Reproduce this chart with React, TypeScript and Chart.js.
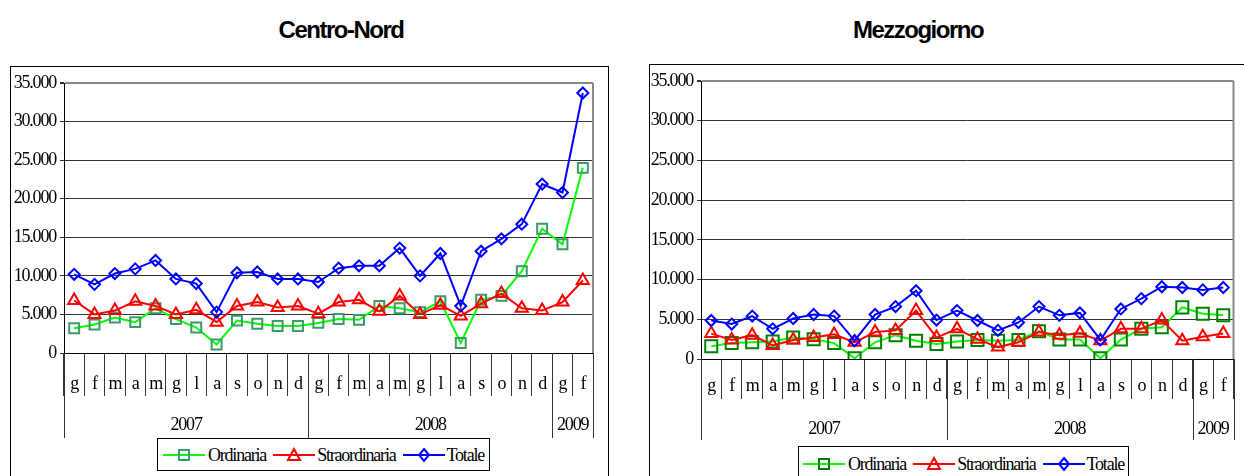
import React, { useEffect, useRef } from "react";
import { Chart, registerables } from "chart.js";
Chart.register(...registerables);

// ---------- DATA ----------
const months = ["g","f","m","a","m","g","l","a","s","o","n","d","g","f","m","a","m","g","l","a","s","o","n","d","g","f"];
const years = ["2007", "2008", "2009"];
const yearSpans = [12, 12, 2];
const seriesNames = ["Ordinaria", "Straordinaria", "Totale"];

const nordOrdinaria = [3200,3700,4600,4000,5800,4400,3300,1100,4200,3800,3500,3500,3900,4400,4300,6100,5800,5300,6700,1300,6900,7400,10600,16100,14100,24000];
const nordStraordinaria = [6800,5000,5500,6700,6100,5000,5600,4000,6100,6600,5900,6100,5100,6600,6900,5400,7400,5000,6200,4800,6400,7700,5800,5500,6600,9400];
const nordTotale = [10200,8900,10300,10900,12000,9600,9000,5300,10400,10500,9600,9600,9200,11000,11300,11300,13600,10000,12900,6100,13200,14800,16700,21900,20800,33700];

const sudOrdinaria = [1600,2000,2100,2200,2700,2500,2000,100,2100,3000,2300,1900,2200,2400,2300,2400,3500,2450,2450,100,2450,3800,4000,6500,5700,5500];
const sudStraordinaria = [3200,2400,3000,1700,2400,2700,3100,2100,3400,3600,6100,2700,3800,2500,1500,2100,3400,3000,3250,2300,3800,3800,4900,2300,2800,3200];
const sudTotale = [4850,4400,5400,3800,5100,5600,5400,2300,5600,6600,8600,4900,6100,4850,3600,4600,6600,5500,5800,2400,6300,7600,9100,9000,8700,9000];

const yMax = 35000;
const yStep = 5000;

// ---------- STYLE ----------
const SERIF = '"Liberation Serif", "Times New Roman", serif';
const SPACING = "-1.2px";

function fmt(v: number): string {
  const s = String(Math.round(v));
  return s.replace(/\B(?=(\d{3})+(?!\d))/g, ".");
}

type PanelCfg = {
  left: number; top: number; width: number; height: number;
  yWidth: number; padTop: number; padRight: number; xHeight: number;
  monthSep: number; monthPad: number; yearSep: number; yearOffset: number;
  squareColor: string; squareRadius: number;
  ord: number[]; str: number[]; tot: number[];
};

function decorPlugin(cfg: PanelCfg) {
  return {
    id: "decor",
    beforeUpdate(chart: any) { chart.ctx.letterSpacing = SPACING; },
    beforeDraw(chart: any) { chart.ctx.letterSpacing = SPACING; },
    afterDraw(chart: any) {
      const { ctx, chartArea } = chart;
      const x = chart.scales.x;
      const n = months.length;
      ctx.save();
      ctx.letterSpacing = SPACING;
      // plot area right border
      ctx.strokeStyle = "#888";
      ctx.lineWidth = 2;
      ctx.beginPath();
      ctx.moveTo(chartArea.right, chartArea.top);
      ctx.lineTo(chartArea.right, chartArea.bottom);
      ctx.stroke();
      // year separators
      const half = (x.getPixelForValue(1) - x.getPixelForValue(0)) / 2;
      const bounds = [0];
      let acc = 0;
      yearSpans.forEach((s) => { acc += s; bounds.push(acc); });
      ctx.strokeStyle = "#333";
      ctx.lineWidth = 1;
      bounds.forEach((b) => {
        const px = b < n ? x.getPixelForValue(b) - half : x.getPixelForValue(n - 1) + half;
        const xx = Math.round(px) + 0.5;
        ctx.beginPath();
        ctx.moveTo(xx, chartArea.bottom);
        ctx.lineTo(xx, chartArea.bottom + cfg.yearSep);
        ctx.stroke();
      });
      // year labels
      ctx.font = `18px ${SERIF}`;
      ctx.fillStyle = "#000";
      ctx.textAlign = "center";
      ctx.textBaseline = "middle";
      years.forEach((yr, i) => {
        const a = bounds[i];
        const b = bounds[i + 1] - 1;
        const cx = (x.getPixelForValue(a) + x.getPixelForValue(b)) / 2;
        ctx.fillText(yr, cx, chartArea.bottom + cfg.yearOffset);
      });
      ctx.restore();
    },
  };
}

function Panel({ cfg }: { cfg: PanelCfg }) {
  const ref = useRef<HTMLCanvasElement | null>(null);
  useEffect(() => {
    if (!ref.current) return;
    const font = { family: SERIF, size: 18 };
    const chart = new Chart(ref.current, {
      type: "line",
      data: {
        labels: months,
        datasets: [
          {
            label: seriesNames[0], data: cfg.ord, order: 3,
            borderColor: "#00ff00", borderWidth: 2, tension: 0,
            pointStyle: "rect", pointRadius: cfg.squareRadius,
            pointBorderColor: cfg.squareColor, pointBorderWidth: 2,
            pointBackgroundColor: "rgba(0,0,0,0)",
          },
          {
            label: seriesNames[1], data: cfg.str, order: 2,
            borderColor: "#ff0000", borderWidth: 2, tension: 0,
            pointStyle: "triangle", pointRadius: 7,
            pointBorderColor: "#ff0000", pointBorderWidth: 2,
            pointBackgroundColor: "rgba(0,0,0,0)",
          },
          {
            label: seriesNames[2], data: cfg.tot, order: 1,
            borderColor: "#0000ff", borderWidth: 2, tension: 0,
            pointStyle: "rectRot", pointRadius: 5.5,
            pointBorderColor: "#0000ff", pointBorderWidth: 2,
            pointBackgroundColor: "rgba(0,0,0,0)",
          },
        ],
      },
      options: {
        responsive: false,
        animation: false,
        devicePixelRatio: 1,
        events: [],
        layout: { padding: { top: cfg.padTop, right: cfg.padRight, left: 0, bottom: 0 } },
        plugins: { legend: { display: false }, tooltip: { enabled: false }, title: { display: false } },
        scales: {
          x: {
            type: "category",
            offset: true,
            grid: {
              offset: true, drawOnChartArea: false, drawTicks: true,
              tickLength: cfg.monthSep, color: "#333", tickColor: "#333", lineWidth: 1,
            },
            border: { color: "#000", width: 1 },
            ticks: { font, color: "#000", padding: cfg.monthPad, maxRotation: 0, minRotation: 0, autoSkip: false },
            afterFit: (s: any) => { s.height = cfg.xHeight; },
          },
          y: {
            min: 0, max: yMax,
            ticks: { stepSize: yStep, font, color: "#000", padding: 4, callback: (v: any) => fmt(Number(v)) },
            grid: {
              color: (c: any) => (c.tick && c.tick.value === yMax ? "#888" : "#333"),
              lineWidth: (c: any) => (c.tick && c.tick.value === yMax ? 2 : 1),
              tickLength: 4,
              tickColor: "#333",
            },
            border: { color: "#000", width: 1 },
            afterFit: (s: any) => { s.width = cfg.yWidth; },
          },
        },
      } as any,
      plugins: [decorPlugin(cfg)],
    });
    return () => chart.destroy();
  }, [cfg]);
  return (
    <canvas
      ref={ref}
      width={cfg.width}
      height={cfg.height}
      style={{ position: "absolute", left: cfg.left, top: cfg.top, width: cfg.width, height: cfg.height }}
    />
  );
}

function Icon({ color, marker, markerColor }: { color: string; marker: string; markerColor: string }) {
  return (
    <svg width={42} height={16} style={{ display: "block", flex: "none" }}>
      <line x1={0} y1={8} x2={42} y2={8} stroke={color} strokeWidth={2} />
      {marker === "rect" && <rect x={16} y={3} width={10} height={10} fill="none" stroke={markerColor} strokeWidth={2} />}
      {marker === "triangle" && <polygon points="21,2 27,13 15,13" fill="none" stroke={markerColor} strokeWidth={2} />}
      {marker === "diamond" && <polygon points="21,2 26,8 21,14 16,8" fill="none" stroke={markerColor} strokeWidth={2} />}
    </svg>
  );
}

function Legend({ left, top, width, height, squareColor }: { left: number; top: number; width: number; height: number; squareColor: string }) {
  const text: React.CSSProperties = { fontFamily: SERIF, fontSize: 18, letterSpacing: SPACING, color: "#000", lineHeight: "18px", whiteSpace: "nowrap" };
  return (
    <div
      style={{
        position: "absolute", left, top, width, height, boxSizing: "border-box",
        border: "1px solid #000", background: "#fff", display: "flex", alignItems: "center",
        justifyContent: "center", gap: 0,
      }}
    >
      <Icon color="#00ff00" marker="rect" markerColor={squareColor} />
      <span style={{ ...text, marginLeft: 3, marginRight: 7 }}>{seriesNames[0]}</span>
      <Icon color="#ff0000" marker="triangle" markerColor="#ff0000" />
      <span style={{ ...text, marginLeft: 2, marginRight: 7 }}>{seriesNames[1]}</span>
      <Icon color="#0000ff" marker="diamond" markerColor="#0000ff" />
      <span style={{ ...text, marginLeft: 2 }}>{seriesNames[2]}</span>
    </div>
  );
}

const leftCfg: PanelCfg = {
  left: 11, top: 67, width: 596, height: 409,
  yWidth: 53, padTop: 16, padRight: 14, xHeight: 123,
  monthSep: 43, monthPad: -23, yearSep: 85, yearOffset: 72,
  squareColor: "#3a9a68", squareRadius: 7,
  ord: nordOrdinaria, str: nordStraordinaria, tot: nordTotale,
};

const rightCfg: PanelCfg = {
  left: 650, top: 65, width: 594, height: 411,
  yWidth: 51, padTop: 16, padRight: 5, xHeight: 117,
  monthSep: 40, monthPad: -24, yearSep: 81, yearOffset: 70,
  squareColor: "#008000", squareRadius: 8.5,
  ord: sudOrdinaria, str: sudStraordinaria, tot: sudTotale,
};

const titleStyle: React.CSSProperties = {
  position: "absolute", top: 15, width: 300, height: 30, lineHeight: "30px", textAlign: "center",
  fontFamily: '"Liberation Sans", Arial, sans-serif', fontWeight: "bold", fontSize: 24, letterSpacing: "-1.5px", color: "#000",
};

export default function App() {
  return (
    <div style={{ position: "absolute", left: 0, top: 0, width: 1244, height: 476, overflow: "hidden", background: "#fff" }}>
      <div style={{ ...titleStyle, left: 341 - 150 }}>Centro-Nord</div>
      <div style={{ ...titleStyle, left: 918 - 150 }}>Mezzogiorno</div>
      <div style={{ position: "absolute", left: 10, top: 66, width: 599, height: 430, boxSizing: "border-box", border: "1px solid #000" }} />
      <div style={{ position: "absolute", left: 649, top: 64, width: 620, height: 430, boxSizing: "border-box", border: "1px solid #000" }} />
      <Panel cfg={leftCfg} />
      <Panel cfg={rightCfg} />
      <Legend left={157} top={438} width={333} height={33} squareColor="#3a9a68" />
      <Legend left={798} top={446} width={331} height={35} squareColor="#008000" />
    </div>
  );
}
